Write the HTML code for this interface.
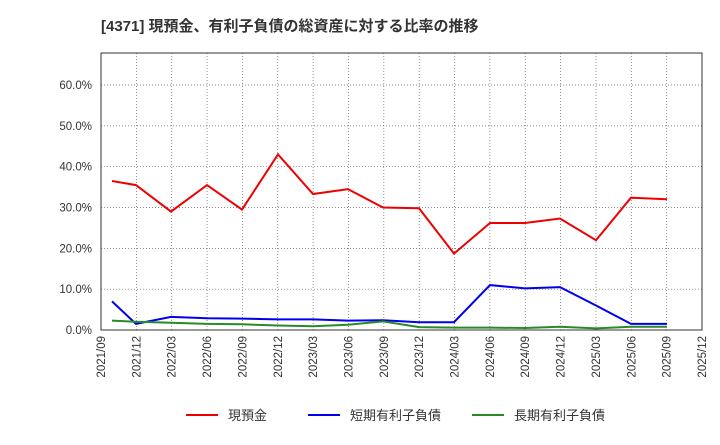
<!DOCTYPE html>
<html><head><meta charset="utf-8"><style>
body{margin:0;background:#fff;width:720px;height:440px;overflow:hidden;font-family:"Liberation Sans","Noto Sans CJK JP",sans-serif}
</style></head><body>
<svg width="720" height="440" xmlns="http://www.w3.org/2000/svg" font-family="Liberation Sans, Noto Sans CJK JP, sans-serif">
<text x="101" y="31" font-size="15" font-weight="bold" fill="#333">[4371]  現預金、有利子負債の総資産に対する比率の推移</text>
<g id="grid" stroke="#666" stroke-width="0.7" stroke-dasharray="1,2"></g>
<rect x="101" y="53" width="601" height="277" fill="none" stroke="#333" stroke-width="1"/>
<g id="ylab" font-size="11.5" fill="#333" text-anchor="end"></g>
<g id="xlab" font-size="11.5" fill="#333"></g>
<polyline id="r" fill="none" stroke="#e00" stroke-width="2"/>
<polyline id="b" fill="none" stroke="#00e" stroke-width="2"/>
<polyline id="g" fill="none" stroke="#2a8a2a" stroke-width="2"/>
<line x1="186" y1="415" x2="218" y2="415" stroke="#e00" stroke-width="2"/>
<text x="228" y="420" font-size="13" fill="#333">現預金</text>
<line x1="308" y1="415" x2="340" y2="415" stroke="#00e" stroke-width="2"/>
<text x="350" y="420" font-size="13" fill="#333">短期有利子負債</text>
<line x1="472" y1="415" x2="504" y2="415" stroke="#2a8a2a" stroke-width="2"/>
<text x="514" y="420" font-size="13" fill="#333">長期有利子負債</text>
</svg>
<script>
const ns="http://www.w3.org/2000/svg";
const Y=v=>330-v*4.083;
const grid=document.getElementById('grid'),yl=document.getElementById('ylab'),xl=document.getElementById('xlab');
for(let i=0;i<=6;i++){const y=Y(i*10);
 if(i>0){const l=document.createElementNS(ns,'line');l.setAttribute('x1',101);l.setAttribute('x2',702);l.setAttribute('y1',y);l.setAttribute('y2',y);grid.appendChild(l);}
 const t=document.createElementNS(ns,'text');t.setAttribute('x',92);t.setAttribute('y',y+4);t.textContent=(i*10).toFixed(1)+'%';yl.appendChild(t);}
const labs=[];let yr=2021,m=9;
for(let i=0;i<=17;i++){labs.push(yr+'/'+String(m).padStart(2,'0'));m+=3;if(m>12){m-=12;yr++;}}
labs.forEach((s,i)=>{const x=101+i*601/17;
 if(i>0&&i<17){const l=document.createElementNS(ns,'line');l.setAttribute('x1',x);l.setAttribute('x2',x);l.setAttribute('y1',53);l.setAttribute('y2',330);grid.appendChild(l);}
 const t=document.createElementNS(ns,'text');t.setAttribute('transform',`translate(${x+4},336) rotate(-90)`);t.setAttribute('text-anchor','end');t.textContent=s;xl.appendChild(t);});
const xs=[112,136,171,207,242,278,313,348,383,419,454,490,525,560,596,631,667];
const d={r:[36.5,35.5,29,35.5,29.5,43,33.3,34.5,30,29.8,18.7,26.2,26.2,27.3,22,32.4,32],
b:[7,1.5,3.2,2.9,2.8,2.6,2.6,2.3,2.4,1.9,1.9,11,10.2,10.5,6,1.5,1.5],
g:[2.3,2,1.8,1.5,1.4,1.1,0.9,1.3,2.1,0.7,0.6,0.6,0.5,0.8,0.4,0.8,0.8]};
for(const k in d)document.getElementById(k).setAttribute('points',d[k].map((v,i)=>xs[i]+','+Y(v).toFixed(1)).join(' '));
</script>
</body></html>
